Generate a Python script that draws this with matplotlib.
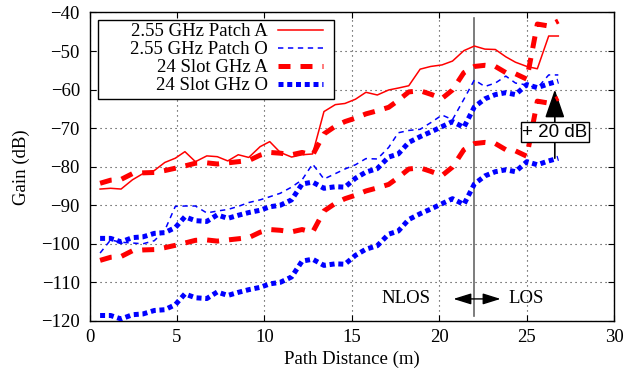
import matplotlib
matplotlib.use("Agg")
import matplotlib.pyplot as plt
from matplotlib.patches import Rectangle
import numpy as np

plt.rcParams['font.family'] = ['Liberation Serif', 'DejaVu Serif']
plt.rcParams['font.size'] = 13.5

# path distance of every measurement position (m)
dist = [0.6, 1.2, 1.8, 2.45, 3.05, 3.7, 4.3, 4.9, 5.45, 6.05, 6.7, 7.3, 7.9, 8.5,
        9.1, 9.75, 10.3, 10.9, 11.55, 12.15, 12.75, 13.4, 14.05, 14.6, 15.2, 15.8,
        16.45, 17.1, 17.65, 18.25, 18.9, 19.5, 20.15, 20.75, 21.4, 22.0, 22.6, 23.2,
        23.8, 24.35, 25.0, 25.6, 26.25, 26.8]

# gain (dB)
patch_a = [-85.8, -85.6, -85.8, -83.4, -81.8, -81.0, -78.9, -77.8, -76.1, -78.7,
           -77.2, -77.4, -78.5, -76.9, -77.6, -74.8, -73.5, -76.3, -77.5, -76.9,
           -76.7, -65.7, -63.9, -63.6, -62.5, -60.7, -61.4, -60.1, -59.6, -59.0,
           -54.7, -54.0, -53.6, -52.6, -49.9, -48.7, -49.5, -49.6, -51.5, -52.9,
           -54.0, -54.6, -46.1, -46.1]
patch_o = [-102.4, -99.0, -99.6, -99.8, -100.0, -99.2, -96.5, -90.3, -90.2, -90.2,
           -92.0, -91.5, -91.1, -90.3, -89.3, -88.6, -87.8, -86.9, -85.3, -83.4,
           -79.3, -83.2, -81.8, -80.6, -79.5, -77.9, -78.0, -75.0, -71.2, -70.6,
           -70.3, -68.6, -66.6, -67.8, -62.5, -57.5, -59.2, -58.3, -56.5, -58.3,
           -58.8, -59.6, -56.2, -56.2]
slot_a = [-104.3, -103.5, -103.3, -101.8, -101.6, -101.5, -101.0, -100.4, -99.8,
          -99.1, -99.0, -99.3, -99.0, -98.7, -98.4, -97.0, -96.3, -96.5, -96.9,
          -96.3, -97.0, -91.5, -89.5, -88.3, -87.4, -86.3, -85.5, -84.6, -82.8,
          -80.6, -80.3, -81.2, -82.3, -80.1, -75.6, -74.0, -73.7, -74.0, -75.6,
          -75.9, -77.3, -63.0, -63.5, -62.2]
slot_o = [-118.6, -118.6, -119.5, -118.4, -118.2, -117.3, -117.1, -115.8, -113.0,
          -114.0, -114.2, -112.5, -113.4, -112.6, -111.9, -111.3, -110.4, -110.0,
          -108.6, -104.5, -104.0, -105.6, -105.2, -105.3, -103.0, -101.4, -100.5,
          -97.5, -96.7, -93.7, -92.2, -91.0, -89.6, -88.3, -89.8, -84.5, -82.4,
          -81.3, -80.8, -81.3, -78.7, -79.5, -78.5, -77.8]
offset = 20  # dB shift applied to the 24 GHz curves

los_boundary = 22.0

fig, ax = plt.subplots(figsize=(6.31, 3.74), dpi=100)
fig.subplots_adjust(left=0.142, right=0.9735, bottom=0.142, top=0.9666)

x = np.array(dist)
sa = np.array(slot_a)
so = np.array(slot_o)

ax.plot(x, patch_a, color='#ff0000', lw=1.1, label='2.55 GHz Patch A', zorder=4)
ax.plot(x, patch_o, color='#0000ff', lw=1.1, linestyle=(0, (3.5, 3)),
        label='2.55 GHz Patch O', zorder=4)
ax.plot(x, sa, color='#ff0000', lw=3.6, linestyle=(0, (2.4, 2.0)),
        dash_capstyle='butt', label='24 Slot GHz A', zorder=3)
ax.plot(x, so, color='#0000ff', lw=3.6, linestyle=(0, (1.0, 0.75)),
        dash_capstyle='butt', label='24 Slot GHz O', zorder=3)
ax.plot(x, sa + offset, color='#ff0000', lw=3.6, linestyle=(0, (2.4, 2.0)),
        dash_capstyle='butt', zorder=3)
ax.plot(x, so + offset, color='#0000ff', lw=3.6, linestyle=(0, (1.0, 0.75)),
        dash_capstyle='butt', zorder=3)

# NLOS / LOS boundary
ax.plot([los_boundary, los_boundary], [-118.8, -41.3], color='#666666', lw=1.2, zorder=2)
ax.annotate('', xy=(20.8, -114.3), xytext=(23.5, -114.3),
            arrowprops=dict(arrowstyle='<|-|>,head_length=0.8,head_width=0.25',
                            color='k', lw=1.0, shrinkA=0, shrinkB=0))
ax.text(18.1, -114.3, 'NLOS', ha='center', va='center')
ax.text(24.95, -114.3, 'LOS', ha='center', va='center')

# +20 dB marker
ax.annotate('', xy=(26.6, -60.0), xytext=(26.6, so[-1]),
            arrowprops=dict(arrowstyle='-|>,head_length=1.3,head_width=0.45',
                            color='k', lw=1.2, shrinkA=0, shrinkB=0), zorder=2)
ax.text(26.6, -71.1, '+ 20 dB', family='Liberation Sans', fontsize=13.5,
        ha='center', va='center', zorder=6,
        bbox=dict(boxstyle='square,pad=0.08', fc='white', ec='k', lw=1.0))

ax.set_xlim(0, 30)
ax.set_ylim(-120, -40)
ax.set_xticks(np.arange(0, 31, 5))
ax.set_yticks(np.arange(-120, -39, 10))
ax.tick_params(direction='in', top=True, right=True, length=4, width=0.8)
ax.tick_params(axis='y', pad=7)
ax.tick_params(axis='x', pad=6)
ax.grid(True, color='#333333', linestyle=(0, (1, 3.5)), lw=0.8)
for s in ax.spines.values():
    s.set_linewidth(1.0)
ax.set_xlabel('Path Distance (m)', labelpad=3)
ax.set_ylabel('Gain (dB)', labelpad=8)

# key box, gnuplot style: wide white frame, labels right-aligned before samples
key_box = Rectangle((0.0158, 0.7196), 0.4499, 0.2561, transform=ax.transAxes,
                    fc='white', ec='k', lw=1.0, zorder=6)
ax.add_patch(key_box)
leg = ax.legend(loc='upper right', bbox_to_anchor=(0.4447, 0.966), markerfirst=False,
                frameon=False, handlelength=2.4, borderpad=0.0, labelspacing=0.05,
                handletextpad=0.55, borderaxespad=0)
leg.set_zorder(7)

fig.savefig('out.png', dpi=100)
